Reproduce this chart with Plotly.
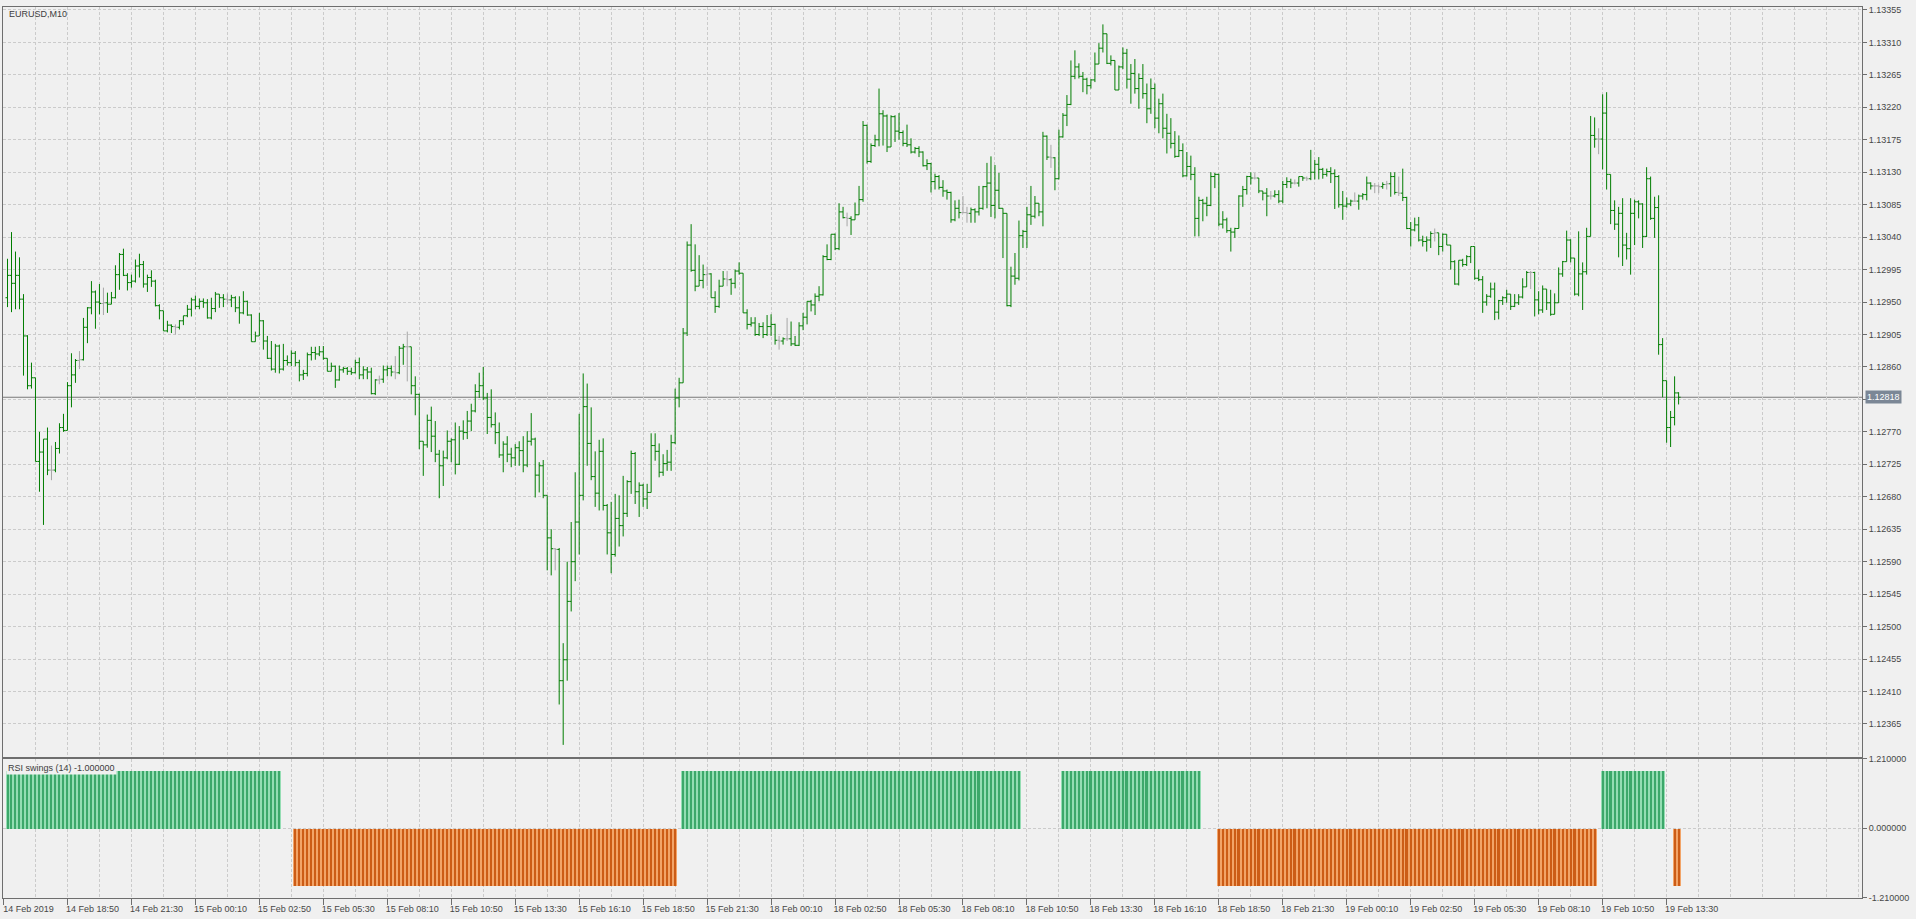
import numpy as np
import plotly.graph_objects as go

chart_title = "EURUSD,M10"
indicator_title = "RSI swings (14) -1.000000"

time_labels = [
    "14 Feb 2019", "14 Feb 18:50", "14 Feb 21:30",
    "15 Feb 00:10", "15 Feb 02:50", "15 Feb 05:30", "15 Feb 08:10", "15 Feb 10:50",
    "15 Feb 13:30", "15 Feb 16:10", "15 Feb 18:50", "15 Feb 21:30",
    "18 Feb 00:10", "18 Feb 02:50", "18 Feb 05:30", "18 Feb 08:10", "18 Feb 10:50",
    "18 Feb 13:30", "18 Feb 16:10", "18 Feb 18:50", "18 Feb 21:30",
    "19 Feb 00:10", "19 Feb 02:50", "19 Feb 05:30", "19 Feb 08:10", "19 Feb 10:50",
    "19 Feb 13:30",
]
first_label_bar = -1
bars_per_label = 16
bars_per_grid = 8

price_ticks = [1.12365, 1.12410, 1.12455, 1.12500, 1.12545, 1.12590, 1.12635, 1.12680,
               1.12725, 1.12770, 1.12815, 1.12860, 1.12905, 1.12950, 1.12995, 1.13040,
               1.13085, 1.13130, 1.13175, 1.13220, 1.13265, 1.13310, 1.13355]
swing_ticks = [1.21, 0.0, -1.21]

opens = [
    1.12956, 1.12987, 1.12976, 1.12987, 1.12954, 1.12903, 1.12834, 1.12845, 1.12729, 1.12742,
    1.12760, 1.12717, 1.12717, 1.12747, 1.12776, 1.12772, 1.12834, 1.12849, 1.12869, 1.12870,
    1.12915, 1.12942, 1.12964, 1.12950, 1.12948, 1.12949, 1.12947, 1.12956, 1.12988, 1.13016,
    1.12987, 1.12977, 1.12979, 1.13000, 1.13002, 1.12975, 1.12984, 1.12979, 1.12945, 1.12938,
    1.12910, 1.12918, 1.12916, 1.12915, 1.12924, 1.12931, 1.12940, 1.12953, 1.12944, 1.12951,
    1.12949, 1.12928, 1.12941, 1.12961, 1.12956, 1.12954, 1.12953, 1.12956, 1.12942, 1.12935,
    1.12951, 1.12932, 1.12895, 1.12903, 1.12924, 1.12896, 1.12872, 1.12857, 1.12889, 1.12857,
    1.12869, 1.12866, 1.12879, 1.12866, 1.12849, 1.12851, 1.12877, 1.12880, 1.12878, 1.12881,
    1.12872, 1.12854, 1.12861, 1.12842, 1.12856, 1.12858, 1.12854, 1.12852, 1.12866, 1.12849,
    1.12856, 1.12853, 1.12823, 1.12842, 1.12843, 1.12856, 1.12858, 1.12853, 1.12852, 1.12886,
    1.12888, 1.12888, 1.12834, 1.12822, 1.12757, 1.12752, 1.12786, 1.12764, 1.12739, 1.12723,
    1.12734, 1.12757, 1.12759, 1.12725, 1.12771, 1.12769, 1.12785, 1.12799, 1.12826, 1.12834,
    1.12817, 1.12790, 1.12780, 1.12769, 1.12738, 1.12753, 1.12739, 1.12734, 1.12748, 1.12744,
    1.12724, 1.12757, 1.12760, 1.12710, 1.12723, 1.12682, 1.12623, 1.12608, 1.12607, 1.12425,
    1.12454, 1.12535, 1.12590, 1.12645, 1.12682, 1.12805, 1.12754, 1.12708, 1.12685, 1.12743,
    1.12668, 1.12630, 1.12600, 1.12650, 1.12640, 1.12657, 1.12701, 1.12740, 1.12687, 1.12696,
    1.12677, 1.12686, 1.12751, 1.12743, 1.12714, 1.12726, 1.12728, 1.12755, 1.12817, 1.12838,
    1.12907, 1.13029, 1.12994, 1.12972, 1.12980, 1.12988, 1.12989, 1.12956, 1.12944, 1.12972,
    1.12982, 1.12981, 1.12976, 1.12993, 1.12990, 1.12935, 1.12919, 1.12921, 1.12905, 1.12916,
    1.12905, 1.12916, 1.12919, 1.12897, 1.12896, 1.12899, 1.12899, 1.12892, 1.12890, 1.12917,
    1.12929, 1.12951, 1.12946, 1.12958, 1.12960, 1.13013, 1.13009, 1.13044, 1.13024, 1.13075,
    1.13067, 1.13066, 1.13064, 1.13071, 1.13092, 1.13195, 1.13145, 1.13167, 1.13175, 1.13211,
    1.13208, 1.13165, 1.13207, 1.13187, 1.13185, 1.13170, 1.13168, 1.13158, 1.13163, 1.13158,
    1.13139, 1.13142, 1.13117, 1.13124, 1.13109, 1.13104, 1.13102, 1.13064, 1.13080, 1.13074,
    1.13074, 1.13073, 1.13078, 1.13075, 1.13080, 1.13110, 1.13115, 1.13084, 1.13105, 1.13080,
    1.13073, 1.12945, 1.12986, 1.12983, 1.13042, 1.13048, 1.13071, 1.13069, 1.13087, 1.13075,
    1.13180, 1.13151, 1.13150, 1.13121, 1.13179, 1.13209, 1.13224, 1.13263, 1.13276, 1.13263,
    1.13259, 1.13250, 1.13258, 1.13280, 1.13302, 1.13322, 1.13281, 1.13285, 1.13244, 1.13276,
    1.13295, 1.13259, 1.13267, 1.13246, 1.13260, 1.13239, 1.13218, 1.13246, 1.13205, 1.13225,
    1.13191, 1.13184, 1.13170, 1.13152, 1.13160, 1.13125, 1.13138, 1.13127, 1.13066, 1.13091,
    1.13087, 1.13084, 1.13124, 1.13127, 1.13058, 1.13064, 1.13049, 1.13047, 1.13052, 1.13097,
    1.13106, 1.13124, 1.13122, 1.13122, 1.13104, 1.13101, 1.13097, 1.13097, 1.13099, 1.13090,
    1.13113, 1.13117, 1.13115, 1.13115, 1.13124, 1.13122, 1.13121, 1.13130, 1.13141, 1.13134,
    1.13127, 1.13131, 1.13128, 1.13124, 1.13085, 1.13083, 1.13086, 1.13090, 1.13090, 1.13097,
    1.13099, 1.13115, 1.13111, 1.13111, 1.13110, 1.13113, 1.13114, 1.13124, 1.13102, 1.13101,
    1.13095, 1.13052, 1.13050, 1.13057, 1.13036, 1.13034, 1.13036, 1.13045, 1.13046, 1.13027,
    1.13044, 1.13029, 1.13006, 1.12975, 1.13008, 1.13002, 1.13013, 1.13027, 1.12983, 1.12981,
    1.12950, 1.12958, 1.12968, 1.12936, 1.12952, 1.12956, 1.12961, 1.12944, 1.12949, 1.12957,
    1.12971, 1.12991, 1.12991, 1.12953, 1.12939, 1.12968, 1.12949, 1.12933, 1.12949, 1.12989,
    1.13006, 1.13036, 1.13011, 1.12961, 1.12989, 1.12992, 1.13041, 1.13181, 1.13176, 1.13176,
    1.13212, 1.13127, 1.13077, 1.13058, 1.13073, 1.13029, 1.13024, 1.13073, 1.13089, 1.13086,
    1.13041, 1.13121, 1.13066, 1.13081, 1.12891, 1.12841, 1.12776, 1.12790, 1.12824,
]

highs = [
    1.13010, 1.13047, 1.13020, 1.13012, 1.12961, 1.12904, 1.12866, 1.12845, 1.12770, 1.12760,
    1.12776, 1.12751, 1.12756, 1.12782, 1.12795, 1.12839, 1.12879, 1.12871, 1.12882, 1.12928,
    1.12943, 1.12979, 1.12966, 1.12975, 1.12970, 1.12963, 1.12964, 1.13001, 1.13018, 1.13024,
    1.12990, 1.12988, 1.13009, 1.13017, 1.13007, 1.12988, 1.12994, 1.12981, 1.12947, 1.12938,
    1.12924, 1.12919, 1.12919, 1.12925, 1.12931, 1.12946, 1.12956, 1.12959, 1.12955, 1.12955,
    1.12954, 1.12956, 1.12964, 1.12961, 1.12961, 1.12962, 1.12960, 1.12958, 1.12958, 1.12965,
    1.12952, 1.12933, 1.12909, 1.12935, 1.12925, 1.12903, 1.12896, 1.12892, 1.12891, 1.12892,
    1.12876, 1.12883, 1.12882, 1.12870, 1.12856, 1.12880, 1.12888, 1.12888, 1.12889, 1.12889,
    1.12872, 1.12866, 1.12862, 1.12862, 1.12860, 1.12860, 1.12859, 1.12870, 1.12873, 1.12861,
    1.12860, 1.12859, 1.12843, 1.12848, 1.12862, 1.12862, 1.12862, 1.12875, 1.12889, 1.12892,
    1.12909, 1.12888, 1.12847, 1.12823, 1.12757, 1.12794, 1.12805, 1.12785, 1.12745, 1.12744,
    1.12772, 1.12761, 1.12783, 1.12778, 1.12786, 1.12799, 1.12809, 1.12836, 1.12852, 1.12860,
    1.12824, 1.12829, 1.12797, 1.12783, 1.12757, 1.12764, 1.12748, 1.12753, 1.12757, 1.12764,
    1.12771, 1.12796, 1.12762, 1.12728, 1.12731, 1.12682, 1.12635, 1.12609, 1.12609, 1.12477,
    1.12590, 1.12645, 1.12714, 1.12795, 1.12851, 1.12837, 1.12804, 1.12743, 1.12759, 1.12761,
    1.12670, 1.12673, 1.12684, 1.12682, 1.12709, 1.12703, 1.12744, 1.12742, 1.12700, 1.12698,
    1.12698, 1.12768, 1.12768, 1.12754, 1.12739, 1.12745, 1.12766, 1.12830, 1.12845, 1.12914,
    1.13034, 1.13058, 1.13030, 1.13015, 1.13002, 1.12999, 1.12990, 1.12965, 1.12981, 1.12993,
    1.12993, 1.12983, 1.12995, 1.13005, 1.12990, 1.12940, 1.12929, 1.12929, 1.12921, 1.12922,
    1.12932, 1.12933, 1.12920, 1.12903, 1.12901, 1.12928, 1.12923, 1.12903, 1.12922, 1.12935,
    1.12951, 1.12953, 1.12962, 1.12972, 1.13015, 1.13030, 1.13044, 1.13045, 1.13087, 1.13082,
    1.13074, 1.13069, 1.13088, 1.13111, 1.13201, 1.13196, 1.13170, 1.13182, 1.13246, 1.13216,
    1.13210, 1.13209, 1.13209, 1.13212, 1.13188, 1.13196, 1.13177, 1.13165, 1.13166, 1.13159,
    1.13148, 1.13143, 1.13128, 1.13126, 1.13119, 1.13106, 1.13103, 1.13091, 1.13092, 1.13097,
    1.13082, 1.13081, 1.13080, 1.13111, 1.13111, 1.13143, 1.13152, 1.13140, 1.13129, 1.13080,
    1.13073, 1.12999, 1.13018, 1.13063, 1.13050, 1.13082, 1.13111, 1.13097, 1.13087, 1.13186,
    1.13181, 1.13168, 1.13151, 1.13189, 1.13212, 1.13237, 1.13285, 1.13299, 1.13281, 1.13269,
    1.13261, 1.13259, 1.13296, 1.13309, 1.13335, 1.13322, 1.13292, 1.13285, 1.13278, 1.13303,
    1.13301, 1.13280, 1.13287, 1.13267, 1.13280, 1.13253, 1.13260, 1.13253, 1.13232, 1.13239,
    1.13211, 1.13205, 1.13187, 1.13181, 1.13170, 1.13158, 1.13153, 1.13137, 1.13096, 1.13093,
    1.13096, 1.13130, 1.13129, 1.13128, 1.13076, 1.13067, 1.13053, 1.13053, 1.13098, 1.13111,
    1.13125, 1.13130, 1.13129, 1.13122, 1.13104, 1.13108, 1.13104, 1.13105, 1.13105, 1.13118,
    1.13123, 1.13121, 1.13120, 1.13124, 1.13124, 1.13124, 1.13161, 1.13147, 1.13151, 1.13136,
    1.13135, 1.13137, 1.13134, 1.13126, 1.13104, 1.13095, 1.13092, 1.13102, 1.13099, 1.13101,
    1.13124, 1.13116, 1.13115, 1.13113, 1.13116, 1.13118, 1.13130, 1.13130, 1.13124, 1.13135,
    1.13096, 1.13061, 1.13067, 1.13068, 1.13042, 1.13041, 1.13048, 1.13052, 1.13046, 1.13045,
    1.13044, 1.13029, 1.13008, 1.13008, 1.13010, 1.13015, 1.13027, 1.13027, 1.12995, 1.12986,
    1.12961, 1.12977, 1.12977, 1.12953, 1.12958, 1.12967, 1.12961, 1.12961, 1.12961, 1.12983,
    1.12993, 1.12993, 1.12992, 1.12965, 1.12973, 1.12968, 1.12967, 1.12962, 1.12998, 1.13007,
    1.13049, 1.13037, 1.13011, 1.13048, 1.13005, 1.13053, 1.13208, 1.13206, 1.13191, 1.13238,
    1.13241, 1.13127, 1.13091, 1.13082, 1.13094, 1.13046, 1.13094, 1.13092, 1.13091, 1.13087,
    1.13137, 1.13124, 1.13096, 1.13098, 1.12900, 1.12841, 1.12799, 1.12847, 1.12825,
]

lows = [
    1.12943, 1.12936, 1.12940, 1.12940, 1.12848, 1.12829, 1.12830, 1.12729, 1.12687, 1.12641,
    1.12710, 1.12703, 1.12714, 1.12740, 1.12770, 1.12772, 1.12804, 1.12838, 1.12857, 1.12869,
    1.12893, 1.12933, 1.12913, 1.12933, 1.12932, 1.12935, 1.12947, 1.12955, 1.12967, 1.12986,
    1.12966, 1.12970, 1.12977, 1.12984, 1.12970, 1.12964, 1.12971, 1.12944, 1.12926, 1.12910,
    1.12908, 1.12907, 1.12905, 1.12912, 1.12918, 1.12929, 1.12930, 1.12940, 1.12940, 1.12942,
    1.12927, 1.12926, 1.12936, 1.12942, 1.12943, 1.12947, 1.12943, 1.12936, 1.12920, 1.12933,
    1.12931, 1.12895, 1.12895, 1.12903, 1.12884, 1.12871, 1.12855, 1.12852, 1.12851, 1.12855,
    1.12862, 1.12861, 1.12861, 1.12840, 1.12842, 1.12847, 1.12869, 1.12870, 1.12875, 1.12870,
    1.12854, 1.12854, 1.12831, 1.12841, 1.12852, 1.12849, 1.12849, 1.12851, 1.12843, 1.12843,
    1.12843, 1.12822, 1.12821, 1.12836, 1.12838, 1.12847, 1.12847, 1.12843, 1.12850, 1.12863,
    1.12840, 1.12822, 1.12793, 1.12746, 1.12709, 1.12748, 1.12742, 1.12728, 1.12678, 1.12695,
    1.12732, 1.12728, 1.12711, 1.12724, 1.12759, 1.12760, 1.12771, 1.12797, 1.12817, 1.12814,
    1.12767, 1.12776, 1.12753, 1.12734, 1.12714, 1.12728, 1.12721, 1.12723, 1.12723, 1.12714,
    1.12721, 1.12751, 1.12679, 1.12686, 1.12678, 1.12578, 1.12571, 1.12578, 1.12392, 1.12336,
    1.12425, 1.12521, 1.12563, 1.12600, 1.12675, 1.12723, 1.12703, 1.12666, 1.12661, 1.12661,
    1.12600, 1.12574, 1.12597, 1.12611, 1.12625, 1.12652, 1.12684, 1.12670, 1.12652, 1.12666,
    1.12663, 1.12686, 1.12730, 1.12707, 1.12709, 1.12716, 1.12716, 1.12753, 1.12804, 1.12838,
    1.12903, 1.12992, 1.12965, 1.12972, 1.12969, 1.12972, 1.12956, 1.12935, 1.12942, 1.12972,
    1.12972, 1.12960, 1.12969, 1.12988, 1.12935, 1.12912, 1.12916, 1.12903, 1.12903, 1.12900,
    1.12903, 1.12903, 1.12891, 1.12884, 1.12891, 1.12896, 1.12889, 1.12889, 1.12889, 1.12911,
    1.12919, 1.12937, 1.12932, 1.12951, 1.12959, 1.13008, 1.13008, 1.13022, 1.13022, 1.13066,
    1.13055, 1.13043, 1.13064, 1.13071, 1.13089, 1.13142, 1.13143, 1.13165, 1.13166, 1.13167,
    1.13158, 1.13165, 1.13172, 1.13175, 1.13166, 1.13165, 1.13156, 1.13156, 1.13151, 1.13138,
    1.13133, 1.13102, 1.13106, 1.13106, 1.13096, 1.13092, 1.13060, 1.13062, 1.13066, 1.13073,
    1.13060, 1.13060, 1.13060, 1.13070, 1.13078, 1.13080, 1.13068, 1.13066, 1.13079, 1.13011,
    1.12944, 1.12943, 1.12974, 1.12980, 1.13025, 1.13025, 1.13057, 1.13066, 1.13069, 1.13055,
    1.13147, 1.13136, 1.13105, 1.13120, 1.13178, 1.13194, 1.13223, 1.13259, 1.13260, 1.13241,
    1.13238, 1.13246, 1.13255, 1.13280, 1.13296, 1.13280, 1.13278, 1.13244, 1.13244, 1.13273,
    1.13246, 1.13225, 1.13239, 1.13218, 1.13232, 1.13198, 1.13211, 1.13191, 1.13184, 1.13177,
    1.13156, 1.13163, 1.13150, 1.13151, 1.13123, 1.13124, 1.13119, 1.13041, 1.13041, 1.13062,
    1.13069, 1.13083, 1.13108, 1.13055, 1.13052, 1.13046, 1.13020, 1.13039, 1.13052, 1.13082,
    1.13099, 1.13113, 1.13120, 1.13101, 1.13091, 1.13069, 1.13092, 1.13095, 1.13087, 1.13087,
    1.13108, 1.13108, 1.13113, 1.13110, 1.13118, 1.13118, 1.13119, 1.13120, 1.13120, 1.13121,
    1.13124, 1.13115, 1.13079, 1.13081, 1.13064, 1.13081, 1.13083, 1.13089, 1.13078, 1.13092,
    1.13091, 1.13106, 1.13101, 1.13101, 1.13107, 1.13106, 1.13096, 1.13099, 1.13097, 1.13090,
    1.13051, 1.13027, 1.13048, 1.13034, 1.13027, 1.13020, 1.13025, 1.13034, 1.13015, 1.13020,
    1.13029, 1.12995, 1.12974, 1.12973, 1.12999, 1.13000, 1.13004, 1.12981, 1.12979, 1.12935,
    1.12945, 1.12956, 1.12925, 1.12926, 1.12946, 1.12949, 1.12939, 1.12943, 1.12946, 1.12955,
    1.12971, 1.12968, 1.12930, 1.12933, 1.12935, 1.12939, 1.12931, 1.12933, 1.12949, 1.12985,
    1.13006, 1.13005, 1.12959, 1.12958, 1.12939, 1.12988, 1.13041, 1.13164, 1.13155, 1.13134,
    1.13106, 1.13058, 1.13050, 1.13012, 1.13000, 1.13009, 1.12988, 1.13029, 1.13066, 1.13025,
    1.13040, 1.13064, 1.13039, 1.12877, 1.12818, 1.12755, 1.12749, 1.12779, 1.12808,
]

closes = [
    1.12987, 1.12976, 1.12987, 1.12954, 1.12903, 1.12834, 1.12845, 1.12729, 1.12742, 1.12760,
    1.12717, 1.12717, 1.12747, 1.12776, 1.12772, 1.12834, 1.12849, 1.12869, 1.12870, 1.12915,
    1.12942, 1.12964, 1.12950, 1.12948, 1.12949, 1.12947, 1.12956, 1.12988, 1.13016, 1.12987,
    1.12977, 1.12979, 1.13000, 1.13002, 1.12975, 1.12984, 1.12979, 1.12945, 1.12938, 1.12910,
    1.12918, 1.12916, 1.12915, 1.12924, 1.12931, 1.12940, 1.12953, 1.12944, 1.12951, 1.12949,
    1.12928, 1.12941, 1.12961, 1.12956, 1.12954, 1.12953, 1.12956, 1.12942, 1.12935, 1.12951,
    1.12932, 1.12895, 1.12903, 1.12924, 1.12896, 1.12872, 1.12857, 1.12889, 1.12857, 1.12869,
    1.12866, 1.12879, 1.12866, 1.12849, 1.12851, 1.12877, 1.12880, 1.12878, 1.12881, 1.12872,
    1.12854, 1.12861, 1.12842, 1.12856, 1.12858, 1.12854, 1.12852, 1.12866, 1.12849, 1.12856,
    1.12853, 1.12823, 1.12842, 1.12843, 1.12856, 1.12858, 1.12853, 1.12852, 1.12886, 1.12888,
    1.12888, 1.12834, 1.12822, 1.12757, 1.12752, 1.12786, 1.12764, 1.12739, 1.12723, 1.12734,
    1.12757, 1.12759, 1.12725, 1.12771, 1.12769, 1.12785, 1.12799, 1.12826, 1.12834, 1.12817,
    1.12790, 1.12780, 1.12769, 1.12738, 1.12753, 1.12739, 1.12734, 1.12748, 1.12744, 1.12724,
    1.12757, 1.12760, 1.12710, 1.12723, 1.12682, 1.12623, 1.12608, 1.12607, 1.12425, 1.12454,
    1.12535, 1.12590, 1.12645, 1.12682, 1.12805, 1.12754, 1.12708, 1.12685, 1.12743, 1.12668,
    1.12630, 1.12600, 1.12650, 1.12640, 1.12657, 1.12701, 1.12740, 1.12687, 1.12696, 1.12677,
    1.12686, 1.12751, 1.12743, 1.12714, 1.12726, 1.12728, 1.12755, 1.12817, 1.12838, 1.12907,
    1.13029, 1.12994, 1.12972, 1.12980, 1.12988, 1.12989, 1.12956, 1.12944, 1.12972, 1.12982,
    1.12981, 1.12976, 1.12993, 1.12990, 1.12935, 1.12919, 1.12921, 1.12905, 1.12916, 1.12905,
    1.12916, 1.12919, 1.12897, 1.12896, 1.12899, 1.12899, 1.12892, 1.12890, 1.12917, 1.12929,
    1.12951, 1.12946, 1.12958, 1.12960, 1.13013, 1.13009, 1.13044, 1.13024, 1.13075, 1.13067,
    1.13066, 1.13064, 1.13071, 1.13092, 1.13195, 1.13145, 1.13167, 1.13175, 1.13211, 1.13208,
    1.13165, 1.13207, 1.13187, 1.13185, 1.13170, 1.13168, 1.13158, 1.13163, 1.13158, 1.13139,
    1.13142, 1.13117, 1.13124, 1.13109, 1.13104, 1.13102, 1.13064, 1.13080, 1.13074, 1.13074,
    1.13073, 1.13078, 1.13075, 1.13080, 1.13110, 1.13115, 1.13084, 1.13105, 1.13080, 1.13073,
    1.12945, 1.12986, 1.12983, 1.13042, 1.13048, 1.13071, 1.13069, 1.13087, 1.13075, 1.13180,
    1.13151, 1.13150, 1.13121, 1.13179, 1.13209, 1.13224, 1.13263, 1.13276, 1.13263, 1.13259,
    1.13250, 1.13258, 1.13280, 1.13302, 1.13322, 1.13281, 1.13285, 1.13244, 1.13276, 1.13295,
    1.13259, 1.13267, 1.13246, 1.13260, 1.13239, 1.13218, 1.13246, 1.13205, 1.13225, 1.13191,
    1.13184, 1.13170, 1.13152, 1.13160, 1.13125, 1.13138, 1.13127, 1.13066, 1.13091, 1.13087,
    1.13084, 1.13124, 1.13127, 1.13058, 1.13064, 1.13049, 1.13047, 1.13052, 1.13097, 1.13106,
    1.13124, 1.13122, 1.13122, 1.13104, 1.13101, 1.13097, 1.13097, 1.13099, 1.13090, 1.13113,
    1.13117, 1.13115, 1.13115, 1.13124, 1.13122, 1.13121, 1.13130, 1.13141, 1.13134, 1.13127,
    1.13131, 1.13128, 1.13124, 1.13085, 1.13083, 1.13086, 1.13090, 1.13090, 1.13097, 1.13099,
    1.13115, 1.13111, 1.13111, 1.13110, 1.13113, 1.13114, 1.13124, 1.13102, 1.13101, 1.13095,
    1.13052, 1.13050, 1.13057, 1.13036, 1.13034, 1.13036, 1.13045, 1.13046, 1.13027, 1.13044,
    1.13029, 1.13006, 1.12975, 1.13008, 1.13002, 1.13013, 1.13027, 1.12983, 1.12981, 1.12950,
    1.12958, 1.12968, 1.12936, 1.12952, 1.12956, 1.12961, 1.12944, 1.12949, 1.12957, 1.12971,
    1.12991, 1.12991, 1.12953, 1.12939, 1.12968, 1.12949, 1.12933, 1.12949, 1.12989, 1.13006,
    1.13036, 1.13011, 1.12961, 1.12989, 1.12992, 1.13041, 1.13181, 1.13176, 1.13176, 1.13212,
    1.13127, 1.13077, 1.13058, 1.13073, 1.13029, 1.13024, 1.13073, 1.13089, 1.13086, 1.13041,
    1.13121, 1.13066, 1.13081, 1.12891, 1.12841, 1.12776, 1.12790, 1.12824, 1.12818,
]

# RSI swings histogram read as runs of (value, number of bars)
swing_runs = [(1, 69), (0, 3), (-1, 96), (0, 1), (1, 85), (0, 10), (1, 35), (0, 4),
              (-1, 95), (0, 1), (1, 16), (0, 2), (-1, 2)]

# ---------------------------------------------------------------- build
O = np.array(opens)
H = np.array(highs)
L = np.array(lows)
C = np.array(closes)
n = len(C)
bars = np.arange(n)
swing = np.concatenate([np.full(cnt, float(v)) for v, cnt in swing_runs])[:n]
swing_plot = np.where(swing == 0, np.nan, swing)

is_doji = np.isclose(O, C, atol=1e-9)
reg = ~is_doji

W, HT = 1916, 919
ML, MR, MT, MB = 2, 54, 3, 21
px_per_bar = 4.0
x0 = -1.125
x1 = x0 + (W - ML - MR) / px_per_bar
plot_h = HT - MT - MB
main_bottom = 142 / plot_h
lower_top = 140 / plot_h

BG = "#F0F0F0"
GRID = "#CBCBCB"
AXIS = "#6E6E6E"
TXT = "#474747"
BAR = "#007D00"
DOJI = "#A6A6A6"
G_LIGHT, G_DARK = "#94DDB3", "#3CA86A"
R_LIGHT, R_DARK = "#F2A468", "#CC5C16"
FONT = "Liberation Sans, Arial, sans-serif"

fig = go.Figure()
fig.add_trace(go.Ohlc(
    x=bars[reg], open=O[reg], high=H[reg], low=L[reg], close=C[reg],
    increasing=dict(line=dict(color=BAR, width=1)),
    decreasing=dict(line=dict(color=BAR, width=1)),
    tickwidth=0.5, hoverinfo="skip", xaxis="x", yaxis="y", showlegend=False))
dx = bars[is_doji]
fig.add_trace(go.Ohlc(
    x=dx, open=O[is_doji], high=H[is_doji], low=L[is_doji], close=C[is_doji],
    increasing=dict(line=dict(color=DOJI, width=1)),
    decreasing=dict(line=dict(color=DOJI, width=1)),
    tickwidth=min(0.5, 0.5 / np.diff(dx).min()), hoverinfo="skip",
    xaxis="x", yaxis="y", showlegend=False))

light = np.where(swing > 0, G_LIGHT, R_LIGHT)
dark = np.where(swing > 0, G_DARK, R_DARK)
fig.add_trace(go.Bar(x=bars, y=swing_plot, width=1.0, marker=dict(color=light, line=dict(width=0)),
                     xaxis="x2", yaxis="y2", hoverinfo="skip", showlegend=False))
fig.add_trace(go.Bar(x=bars, y=swing_plot, width=0.5, marker=dict(color=dark, line=dict(width=0)),
                     xaxis="x2", yaxis="y2", hoverinfo="skip", showlegend=False))

label_pos = [first_label_bar + bars_per_label * k for k in range(len(time_labels))]
grid_all = np.arange(first_label_bar, x1, bars_per_grid)
minor_pos = [float(v) for v in grid_all if v not in label_pos]

grid_kw = dict(showgrid=True, gridcolor=GRID, gridwidth=1, griddash="3px,2px")
line_kw = dict(showline=True, mirror=True, linecolor=AXIS, linewidth=1, zeroline=False)

last = C[-1]
price_text = ["" if abs(v - last) < 0.0002 else f"{v:.5f}" for v in price_ticks]

fig.update_layout(
    width=W, height=HT,
    margin=dict(l=ML, r=MR, t=MT, b=MB, pad=0),
    paper_bgcolor=BG, plot_bgcolor=BG,
    barmode="overlay", bargap=0, showlegend=False,
    font=dict(family=FONT, size=9, color=TXT),
    xaxis=dict(domain=[0, 1], anchor="y", range=[x0, x1], tickmode="array", tickvals=label_pos,
               showticklabels=False, ticks="", rangeslider=dict(visible=False),
               minor=dict(tickmode="array", tickvals=minor_pos, ticks="", **grid_kw),
               **grid_kw, **line_kw),
    xaxis2=dict(domain=[0, 1], anchor="y2", range=[x0, x1], tickmode="array",
                tickvals=label_pos, ticktext=time_labels, ticks="outside", ticklen=6,
                tickcolor=AXIS, ticklabelshift=25, ticklabelstandoff=-4,
                tickfont=dict(family=FONT, size=9, color=TXT),
                minor=dict(tickmode="array", tickvals=minor_pos, ticks="", **grid_kw),
                **grid_kw, **line_kw),
    yaxis=dict(domain=[main_bottom, 1], anchor="x", side="right", range=[1.123197, 1.133591],
               tickmode="array", tickvals=price_ticks, ticktext=price_text, ticks="outside",
               ticklen=4, tickcolor=AXIS, tickfont=dict(family=FONT, size=9, color=TXT),
               **grid_kw, **line_kw),
    yaxis2=dict(domain=[0, lower_top], anchor="x2", side="right", range=[-1.21, 1.21],
                tickmode="array", tickvals=swing_ticks, ticktext=[f"{v:.6f}" for v in swing_ticks],
                ticks="outside", ticklen=4, tickcolor=AXIS,
                tickfont=dict(family=FONT, size=9, color=TXT),
                **grid_kw, **line_kw),
)

fig.add_shape(type="line", xref="x domain", yref="y", x0=0, x1=1, y0=last, y1=last,
              line=dict(color="#787878", width=1), layer="below")

fig.add_annotation(text=chart_title, xref="paper", yref="paper", x=0, y=1,
                   xanchor="left", yanchor="top", xshift=4, yshift=0, showarrow=False,
                   font=dict(family=FONT, size=9, color="#3C3C3C"), borderpad=1)
fig.add_annotation(text=indicator_title, xref="paper", yref="paper", x=0, y=lower_top,
                   xanchor="left", yanchor="top", xshift=3, yshift=-2, showarrow=False,
                   bgcolor=BG, font=dict(family=FONT, size=9, color="#3C3C3C"), borderpad=1)
fig.add_annotation(text=f"{last:.5f}", xref="paper", yref="y", x=1, y=last,
                   xanchor="left", yanchor="middle", xshift=3, showarrow=False,
                   bgcolor="#7B8796", font=dict(family=FONT, size=9, color="#FFFFFF"),
                   borderpad=1)

fig.write_html("out.html", include_plotlyjs=True, full_html=True,
               config={"displayModeBar": False},
               post_script="document.body.style.margin='0px';document.body.style.overflow='hidden';")
